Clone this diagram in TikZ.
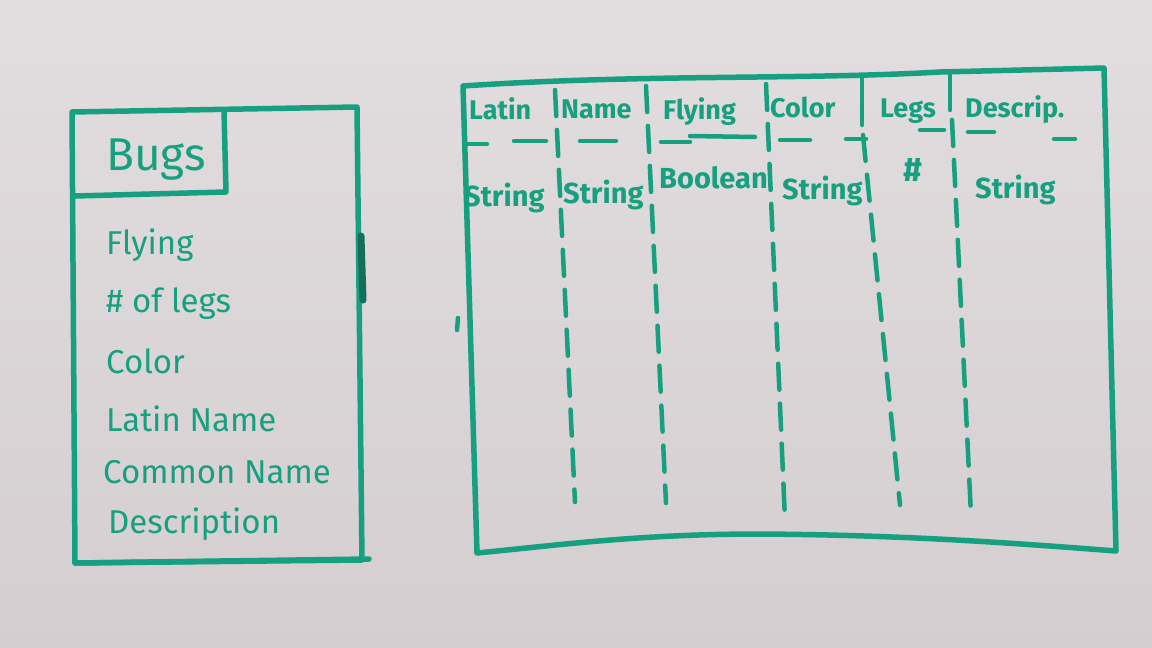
\documentclass[tikz,border=0pt]{standalone}
\usepackage{fontspec}
\setmainfont{Fira Sans}
\definecolor{marker}{RGB}{22,160,128}
\definecolor{markerdark}{RGB}{20,110,90}
\definecolor{boardtop}{RGB}{226,221,223}
\definecolor{boardbot}{RGB}{212,206,209}
\tikzset{
  pen/.style={draw=marker, line width=5.5pt, line cap=round, line join=round},
  thinpen/.style={draw=marker, line width=4.5pt, line cap=round},
  divider/.style={draw=marker, line width=4.5pt, line cap=round, dash pattern=on 26pt off 14pt},
  hand/.style={text=marker, font=\fontsize{33}{35}\selectfont, inner sep=0pt, anchor=base west},
  head/.style={text=marker, font=\fontsize{27}{29}\selectfont\bfseries, inner sep=0pt, anchor=base west},
  cell/.style={text=marker, font=\fontsize{29}{31}\selectfont\bfseries, inner sep=0pt, anchor=base west}
}
\begin{document}
\begin{tikzpicture}[x=1pt,y=-1pt]
\useasboundingbox (0,0) rectangle (1152,648);
\shade[top color=boardtop, bottom color=boardbot] (0,0) rectangle (1152,648);

% ---- left entity box ----
\draw[pen] (72,112) -- (357,107) -- (362,560) -- (75,563) -- cycle;
\draw[pen] (369,559) -- (75,563);
\draw[pen] (75,196) -- (226,192) -- (224,110);
\draw[markerdark, line width=7pt, line cap=round] (361,236) -- (363,300);
\node[text=marker, font=\fontsize{46}{48}\selectfont, inner sep=0pt] (bugs) at (156,160) {Bugs};
\node[hand] (f1) at (106,254) {Flying};
\node[hand] (f2) at (106,312) {\# of legs};
\node[hand] (f3) at (106,373) {Color};
\node[hand] (f4) at (106,431) {Latin Name};
\node[hand] (f5) at (103,483) {Common Name};
\node[hand] (f6) at (108,533) {Description};

% ---- right table ----
\draw[pen] (463,86) .. controls (640,74) and (800,80) .. (940,72) -- (1104,68) -- (1116,551)
  .. controls (1000,542) and (900,535) .. (760,534) .. controls (640,534) and (560,545) .. (477,553) -- cycle;
\draw[thinpen] (457,330) -- (458,318);

% column dividers
\draw[divider] (555,90) -- (575,502);
\draw[divider] (646,86) -- (666,503);
\draw[divider] (766,84) -- (785,520);
\draw[thinpen] (862,76) -- (862,125);
\draw[divider] (863,135) -- (900,505);
\draw[thinpen] (950,75) -- (950,110);
\draw[divider] (952,120) -- (971,515);

% header underlines / dashes
\foreach \a/\b/\y in {466/487/144, 514/546/141, 580/616/141, 661/690/142, 780/810/140,
  846/866/139, 968/994/132, 1054/1075/139}{
  \draw[thinpen] (\a,\y) -- (\b,\y);
}
\draw[thinpen] (690,136) -- (755,137);
\draw[thinpen] (920,130) -- (944,130);

% header texts
\node[head] (h1) at (469,119) {Latin};
\node[head] (h2) at (561,118) {Name};
\node[head] (h3) at (663,119) {Flying};
\node[head] (h4) at (770,117) {Color};
\node[head] (h5) at (880,117) {Legs};
\node[head] (h6) at (965,117) {Descrip.};

% type texts
\node[cell] (c1) at (464,206) {String};
\node[cell] (c2) at (563,203) {String};
\node[cell] (c3) at (659,188) {Boolean};
\node[cell] (c4) at (782,199) {String};
\node[text=marker, font=\fontsize{34}{36}\selectfont\bfseries, inner sep=0pt] (c5) at (913,170) {\#};
\node[cell] (c6) at (975,198) {String};
\end{tikzpicture}
\end{document}
